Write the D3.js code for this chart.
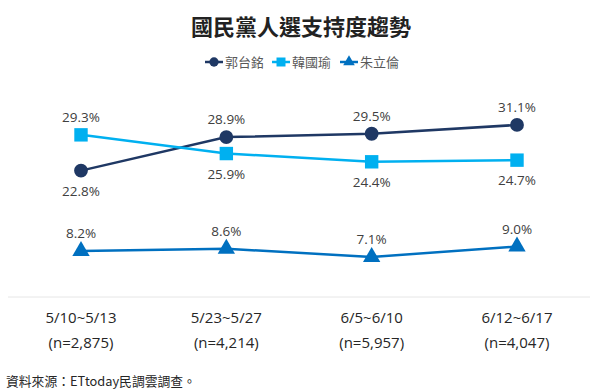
<!DOCTYPE html>
<html>
<head>
<meta charset="utf-8">
<script src="https://cdn.jsdelivr.net/npm/d3@7"></script>
<style>
  body { margin: 0; background: #fff; }
  text { font-family: "Open Sans", "Noto Sans CJK TC", sans-serif; }
</style>
</head>
<body>
<div id="chart-div"></div>
<script>
const periods = ['5/10~5/13', '5/23~5/27', '6/5~6/10', '6/12~6/17']
const samples = ['(n=2,875)', '(n=4,214)', '(n=5,957)', '(n=4,047)']
const kuo = [22.8, 28.9, 29.5, 31.1]
const han = [29.3, 25.9, 24.4, 24.7]
const chu = [8.2, 8.6, 7.1, 9.0]
const seriesNames = ['郭台銘', '韓國瑜', '朱立倫']
// label placement per point: -1 above, 1 below
const kuoPos = [1, -1, -1, -1]
const hanPos = [-1, 1, 1, 1]
const chuPos = [-1, -1, -1, -1]

const width = 600
const height = 392

const svg = d3.select('#chart-div').append('svg')
    .attr('width', width)
    .attr('height', height)
    .attr('viewBox', [0, 0, width, height]);

const series = [
  { name: seriesNames[0], values: kuo, pos: kuoPos, color: '#1f3864', symbol: d3.symbolCircle, size: 150 },
  { name: seriesNames[1], values: han, pos: hanPos, color: '#00b0f0', symbol: d3.symbolSquare, size: 180 },
  { name: seriesNames[2], values: chu, pos: chuPos, color: '#0070c0', symbol: d3.symbolTriangle, size: 130 }
]

const xScale = d3.scalePoint()
  .domain(periods)
  .range([81, 517]);

const yScale = d3.scaleLinear()
  .domain([0, 35])
  .range([296, 103.5]);

const textColor = '#404040'

// title
svg.append('text')
    .attr('x', 301)
    .attr('y', 35)
    .attr('text-anchor', 'middle')
    .attr('font-size', '22px')
    .attr('font-weight', 'bold')
    .attr('fill', '#222')
    .style('font-family', '"Noto Sans CJK TC", sans-serif')
    .text('國民黨人選支持度趨勢');

// legend
const legendX = [205, 272, 340]
const legend = svg.append('g').attr('class', 'legend');
series.forEach((s, i) => {
  const lg = legend.append('g').attr('transform', `translate(${legendX[i]},62)`);
  lg.append('line')
      .attr('x1', 0).attr('x2', 18)
      .attr('stroke', s.color)
      .attr('stroke-width', 2.5);
  lg.append('path')
      .attr('d', d3.symbol().type(s.symbol).size(s.size * 0.45)())
      .attr('transform', 'translate(9,0)')
      .attr('fill', s.color);
  lg.append('text')
      .attr('x', 20)
      .attr('y', 5)
      .attr('font-size', '13px')
      .attr('fill', '#595959')
      .style('font-family', '"Noto Sans CJK TC", sans-serif')
      .text(s.name);
});

// baseline
svg.append('line')
    .attr('x1', 8).attr('x2', 590)
    .attr('y1', yScale(0) + 1).attr('y2', yScale(0) + 1)
    .attr('stroke', '#e6e6e6')
    .attr('stroke-width', 1);

const line = d3.line()
  .x((d, i) => xScale(periods[i]))
  .y(d => yScale(d));

series.forEach(s => {
  const g = svg.append('g');
  g.append('path')
      .datum(s.values)
      .attr('d', line)
      .attr('fill', 'none')
      .attr('stroke', s.color)
      .attr('stroke-width', 2.5);

  g.selectAll('.mark').data(s.values)
    .enter().append('path')
      .attr('class', 'mark')
      .attr('d', d3.symbol().type(s.symbol).size(s.size)())
      .attr('transform', (d, i) => `translate(${xScale(periods[i])},${yScale(d)})`)
      .attr('fill', s.color);

  g.selectAll('.val').data(s.values)
    .enter().append('text')
      .attr('class', 'val')
      .attr('x', (d, i) => xScale(periods[i]))
      .attr('y', (d, i) => yScale(d) + (s.pos[i] < 0 ? -13 : 25))
      .attr('text-anchor', 'middle')
      .attr('font-size', '13.5px')
      .attr('fill', textColor)
      .text(d => d.toFixed(1) + '%');
});

// category labels
const xAxisG = svg.append('g');
xAxisG.selectAll('.cat').data(periods)
  .enter().append('text')
    .attr('class', 'cat')
    .attr('x', d => xScale(d))
    .attr('y', 323)
    .attr('text-anchor', 'middle')
    .attr('font-size', '15px')
    .attr('fill', '#262626')
    .text(d => d);
xAxisG.selectAll('.n').data(samples)
  .enter().append('text')
    .attr('class', 'n')
    .attr('x', (d, i) => xScale(periods[i]))
    .attr('y', 348)
    .attr('text-anchor', 'middle')
    .attr('font-size', '15px')
    .attr('fill', '#262626')
    .text(d => d);

// source
svg.append('text')
    .attr('x', 6)
    .attr('y', 386)
    .attr('font-size', '12.8px')
    .attr('fill', '#262626')
    .style('font-family', '"Noto Sans CJK TC", sans-serif')
    .text('資料來源：ETtoday民調雲調查。');
</script>
</body>
</html>
